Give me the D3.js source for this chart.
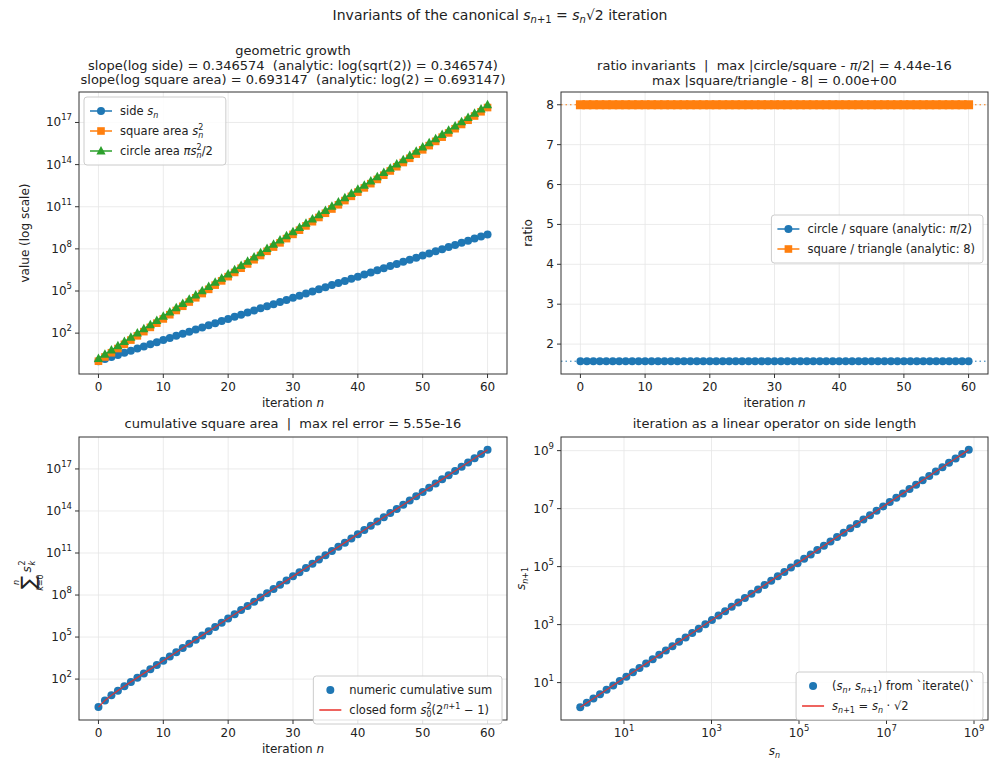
<!DOCTYPE html>
<html><head><meta charset="utf-8">
<script src="https://cdn.jsdelivr.net/npm/d3@7/dist/d3.min.js"></script>
<style>body{margin:0;background:#fff}text{font-family:"DejaVu Sans",sans-serif;fill:#222;white-space:pre}</style>
</head><body>
<svg id="c" width="1000" height="769"></svg>
<script>
// iteration index and side length s_n (s0 = 1, s_{n+1} = s_n*sqrt(2))
const iterations = d3.range(0, 61);
const sideValues = [1,1.414214,2,2.828427,4,5.656854,8,11.313708,16,22.627417,32,45.254834,64,90.509668,128,181.019336,256,362.038672,512,724.077344,1024,1448.154688,2048,2896.309376,4096,5792.618751,8192,11585.237502,16384,23170.475006,32768,46340.950012,65536,92681.900024,131072,185363.800048,262144,370727.600096,524288,741455.200192,1048576,1482910.400384,2097152,2965820.800768,4194304,5931641.601536,8388608,11863283.203072,16777216,23726566.406144,33554432,47453132.812288,67108864,94906265.624576,134217728,189812531.249152,268435456,379625062.498304,536870912,759250124.996608,1073741824];
const squareArea = sideValues.map(s => s*s);
const circleArea = sideValues.map(s => Math.PI*s*s/2);
const triangleArea = sideValues.map(s => s*s/8);
const ratioCircleSquare = circleArea.map((c,i) => c/squareArea[i]);
const ratioSquareTriangle = squareArea.map((q,i) => q/triangleArea[i]);
const cumulative = Array.from(d3.cumsum(squareArea));
const closedForm = iterations.map(n => Math.pow(2, n+1) - 1);
const xTicks = [0,10,20,30,40,50,60];
const logTicksA = [2,5,8,11,14,17];
const logTicksB = [1,3,5,7,9];
const ratioTicks = [2,3,4,5,6,7,8];

const C = {blue:"#1f77b4", orange:"#ff7f0e", green:"#2ca02c", red:"#e8302a"};
const svg = d3.select("#c");

svg.append("text").attr("x",500).attr("y",20).attr("text-anchor","middle").attr("font-size",14)
  .html('Invariants of the canonical <tspan font-style="italic">s</tspan><tspan font-size="10" dy="3"><tspan font-style="italic">n</tspan>+1</tspan><tspan dy="-3"> = </tspan><tspan font-style="italic">s</tspan><tspan font-size="10" dy="3" font-style="italic">n</tspan><tspan dy="-3">√2 iteration</tspan>');

function panel(box, xs, ys, opt){
  const g = svg.append("g").attr("transform",`translate(${box.l},${box.t})`);
  const W = box.r-box.l, H = box.b-box.t;
  opt.xt.forEach(v=>g.append("line").attr("x1",xs(v)).attr("x2",xs(v)).attr("y1",0).attr("y2",H).attr("stroke","#e6e6e6").attr("stroke-width",0.8));
  opt.yt.forEach(v=>g.append("line").attr("y1",ys(v)).attr("y2",ys(v)).attr("x1",0).attr("x2",W).attr("stroke","#e6e6e6").attr("stroke-width",0.8));
  opt.xt.forEach(v=>{
    g.append("line").attr("x1",xs(v)).attr("x2",xs(v)).attr("y1",H).attr("y2",H+4).attr("stroke","#333");
    const t=g.append("text").attr("x",xs(v)).attr("y",H+17).attr("text-anchor","middle").attr("font-size",12);
    opt.xf(t,v);
  });
  opt.yt.forEach(v=>{
    g.append("line").attr("y1",ys(v)).attr("y2",ys(v)).attr("x1",0).attr("x2",-4).attr("stroke","#333");
    const t=g.append("text").attr("x",-7).attr("y",ys(v)+4).attr("text-anchor","end").attr("font-size",12);
    opt.yf(t,v);
  });
  return {g,W,H};
}
const plainF = (t,v)=>t.text(v);
const powF = (t,v)=>t.html(`10<tspan font-size="8.5" dy="-6">${v}</tspan>`);
function frame(p){p.g.append("rect").attr("width",p.W).attr("height",p.H).attr("fill","none").attr("stroke","#333").attr("stroke-width",1);}
function title(p, lines, y0){lines.forEach((l,i)=>p.g.append("text").attr("x",p.W/2).attr("y",y0+i*14.5).attr("text-anchor","middle").attr("font-size",13).html(l));}
function xlabel(p, s){p.g.append("text").attr("x",p.W/2).attr("y",p.H+33).attr("text-anchor","middle").attr("font-size",12).html(s);}
function ylabel(p, s, off){p.g.append("text").attr("transform",`translate(${-off},${p.H/2}) rotate(-90)`).attr("text-anchor","middle").attr("font-size",12).html(s);}
// legend: anchor "ul" = upper-left at (x,y); "r" = right edge at x
function legend(p, x, y, anchor, items){
  const lg = p.g.append("g");
  const box = lg.append("rect").attr("y",y).attr("rx",3).attr("fill","#fff").attr("fill-opacity",0.85).attr("stroke","#ccc");
  const inner = lg.append("g");
  let maxW = 0;
  items.forEach((it,i)=>{
    const cy=y+14+i*20;
    if(it.line) inner.append("line").attr("x1",6).attr("x2",28).attr("y1",cy).attr("y2",cy).attr("stroke",it.color).attr("stroke-width",1.5);
    if(it.marker) drawMarker(inner, it.marker, 17, cy, it.color);
    const t=inner.append("text").attr("x",36).attr("y",cy+4).attr("font-size",11.5).html(it.label);
    maxW=Math.max(maxW,t.node().getComputedTextLength());
  });
  const w = 36+maxW+8, h=items.length*20+8;
  const x0 = anchor==="r" ? x-w : x;
  box.attr("x",x0).attr("width",w).attr("height",h);
  inner.attr("transform",`translate(${x0},0)`);
}
function drawMarker(g,type,x,y,color){
  if(type==="o") g.append("circle").attr("cx",x).attr("cy",y).attr("r",4).attr("fill",color);
  else if(type==="s") g.append("rect").attr("x",x-3.8).attr("y",y-3.8).attr("width",7.6).attr("height",7.6).attr("fill",color);
  else if(type==="^") g.append("path").attr("d",`M${x},${y-5}L${x+4.6},${y+3.5}L${x-4.6},${y+3.5}Z`).attr("fill",color);
}
function series(p, xs, ys, xv, yv, color, marker, line){
  if(line) p.g.append("path").datum(xv.map((x,i)=>[x,yv[i]])).attr("fill","none").attr("stroke",color).attr("stroke-width",1.5)
    .attr("d",d3.line().x(d=>xs(d[0])).y(d=>ys(d[1])));
  xv.forEach((x,i)=>drawMarker(p.g,marker,xs(x),ys(yv[i]),color));
}
const nIt = '<tspan font-style="italic">n</tspan>';

// Panel 1
{
  const box={l:79,r:507,t:92,b:374};
  const xs=d3.scaleLinear().domain([-3,63]).range([0,box.r-box.l]);
  const yl=d3.scaleLinear().domain([-0.91,19.17]).range([box.b-box.t,0]);
  const ys=v=>yl(Math.log10(v));
  const p=panel(box,xs,v=>yl(v),{xt:xTicks,yt:logTicksA,xf:plainF,yf:powF});
  series(p,xs,ys,iterations,sideValues,C.blue,"o",true);
  series(p,xs,ys,iterations,squareArea,C.orange,"s",true);
  series(p,xs,ys,iterations,circleArea,C.green,"^",true);
  frame(p);
  title(p,["geometric growth","slope(log side) = 0.346574  (analytic: log(sqrt(2)) = 0.346574)","slope(log square area) = 0.693147  (analytic: log(2) = 0.693147)"],-37);
  xlabel(p,"iteration "+nIt); ylabel(p,"value (log scale)",50);
  legend(p,5,5,"ul",[
    {color:C.blue,marker:"o",line:true,label:'side <tspan font-style="italic">s</tspan><tspan font-size="8" dy="3" font-style="italic">n</tspan>'},
    {color:C.orange,marker:"s",line:true,label:'square area <tspan font-style="italic">s</tspan><tspan font-size="8" dy="-5">2</tspan><tspan font-size="8" dx="-5" dy="8" font-style="italic">n</tspan>'},
    {color:C.green,marker:"^",line:true,label:'circle area <tspan font-style="italic">πs</tspan><tspan font-size="8" dy="-5">2</tspan><tspan font-size="8" dx="-5" dy="8" font-style="italic">n</tspan><tspan dy="-3">/2</tspan>'}]);
}
// Panel 2
{
  const box={l:561,r:988,t:92,b:374};
  const xs=d3.scaleLinear().domain([-3,63]).range([0,box.r-box.l]);
  const ys=d3.scaleLinear().domain([1.25,8.32]).range([box.b-box.t,0]);
  const p=panel(box,xs,ys,{xt:xTicks,yt:ratioTicks,xf:plainF,yf:plainF});
  p.g.append("line").attr("x1",0).attr("x2",p.W).attr("y1",ys(Math.PI/2)).attr("y2",ys(Math.PI/2)).attr("stroke",C.blue).attr("stroke-dasharray","1.5,3").attr("stroke-width",1);
  p.g.append("line").attr("x1",0).attr("x2",p.W).attr("y1",ys(8)).attr("y2",ys(8)).attr("stroke",C.orange).attr("stroke-dasharray","1.5,3").attr("stroke-width",1);
  series(p,xs,ys,iterations,ratioCircleSquare,C.blue,"o",true);
  p.g.selectAll("rect.sq").data(iterations).enter().append("rect").attr("x",d=>xs(d)-4.5).attr("y",(d,i)=>ys(ratioSquareTriangle[i])-4.5).attr("width",9).attr("height",9).attr("fill",C.orange);
  frame(p);
  title(p,['ratio invariants  |  max |circle/square - <tspan font-style="italic">π</tspan>/2| = 4.44e-16','max |square/triangle - 8| = 0.00e+00'],-22);
  xlabel(p,"iteration "+nIt); ylabel(p,"ratio",29);
  legend(p,p.W-5,123,"r",[
    {color:C.blue,marker:"o",line:true,label:'circle / square (analytic: <tspan font-style="italic">π</tspan>/2)'},
    {color:C.orange,marker:"s",line:true,label:'square / triangle (analytic: 8)'}]);
}
// Panel 3
{
  const box={l:79,r:507,t:437,b:720};
  const xs=d3.scaleLinear().domain([-3,63]).range([0,box.r-box.l]);
  const yl=d3.scaleLinear().domain([-0.92,19.28]).range([box.b-box.t,0]);
  const ys=v=>yl(Math.log10(v));
  const p=panel(box,xs,yl,{xt:xTicks,yt:logTicksA,xf:plainF,yf:powF});
  series(p,xs,ys,iterations,cumulative,C.blue,"o",false);
  p.g.append("path").datum(iterations).attr("fill","none").attr("stroke",C.red).attr("stroke-opacity",0.85).attr("stroke-width",1.3)
    .attr("d",d3.line().x(d=>xs(d)).y(d=>ys(closedForm[d])));
  frame(p);
  title(p,["cumulative square area  |  max rel error = 5.55e-16"],-9);
  xlabel(p,"iteration "+nIt);
  const yl3 = p.g.append("g").attr("transform",`translate(-50,${p.H/2}) rotate(-90)`);
  yl3.append("text").attr("x",-4).attr("y",6).attr("text-anchor","middle").attr("font-size",20).text("∑");
  yl3.append("text").attr("x",-4).attr("y",-10).attr("text-anchor","middle").attr("font-size",8).attr("font-style","italic").text("n");
  yl3.append("text").attr("x",-4).attr("y",14).attr("text-anchor","middle").attr("font-size",8).html('<tspan font-style="italic">k</tspan>=0');
  yl3.append("text").attr("x",6).attr("y",2).attr("font-size",12).attr("font-style","italic").text("s");
  yl3.append("text").attr("x",13).attr("y",-4).attr("font-size",8).text("2");
  yl3.append("text").attr("x",13).attr("y",6).attr("font-size",8).attr("font-style","italic").text("k");
  legend(p,p.W-5,239,"r",[
    {color:C.blue,marker:"o",line:false,label:'numeric cumulative sum'},
    {color:C.red,line:true,label:'closed form <tspan font-style="italic">s</tspan><tspan font-size="8" dy="-5">2</tspan><tspan font-size="8" dx="-5" dy="8">0</tspan><tspan dy="-3">(2</tspan><tspan font-size="8" dy="-5"><tspan font-style="italic">n</tspan>+1</tspan><tspan dy="5"> − 1)</tspan>'}]);
}
// Panel 4
{
  const box={l:561,r:988,t:437,b:720};
  const xl=d3.scaleLinear().domain([-0.44,9.32]).range([0,box.r-box.l]);
  const yl=d3.scaleLinear().domain([-0.29,9.47]).range([box.b-box.t,0]);
  const xs=v=>xl(Math.log10(v)), ys=v=>yl(Math.log10(v));
  const p=panel(box,xl,yl,{xt:logTicksB,yt:logTicksB,xf:powF,yf:powF});
  const sn=sideValues.slice(0,-1), sn1=sideValues.slice(1);
  series(p,xs,ys,sn,sn1,C.blue,"o",false);
  p.g.append("path").datum(sn).attr("fill","none").attr("stroke",C.red).attr("stroke-opacity",0.85).attr("stroke-width",1.3)
    .attr("d",d3.line().x(d=>xs(d)).y(d=>ys(d*Math.SQRT2)));
  frame(p);
  title(p,["iteration as a linear operator on side length"],-9);
  p.g.append("text").attr("x",p.W/2).attr("y",p.H+35).attr("text-anchor","middle").attr("font-size",12).html('<tspan font-style="italic">s</tspan><tspan font-size="8" dy="3" font-style="italic">n</tspan>');
  p.g.append("text").attr("transform",`translate(-36,${p.H/2}) rotate(-90)`).attr("text-anchor","middle").attr("font-size",12).html('<tspan font-style="italic">s</tspan><tspan font-size="8" dy="3"><tspan font-style="italic">n</tspan>+1</tspan>');
  legend(p,p.W-5,235,"r",[
    {color:C.blue,marker:"o",line:false,label:'(<tspan font-style="italic">s</tspan><tspan font-size="8" dy="3" font-style="italic">n</tspan><tspan dy="-3">, </tspan><tspan font-style="italic">s</tspan><tspan font-size="8" dy="3"><tspan font-style="italic">n</tspan>+1</tspan><tspan dy="-3">) from `iterate()`</tspan>'},
    {color:C.red,line:true,label:'<tspan font-style="italic">s</tspan><tspan font-size="8" dy="3"><tspan font-style="italic">n</tspan>+1</tspan><tspan dy="-3"> = </tspan><tspan font-style="italic">s</tspan><tspan font-size="8" dy="3" font-style="italic">n</tspan><tspan dy="-3"> · √2</tspan>'}]);
}
</script>
</body></html>
